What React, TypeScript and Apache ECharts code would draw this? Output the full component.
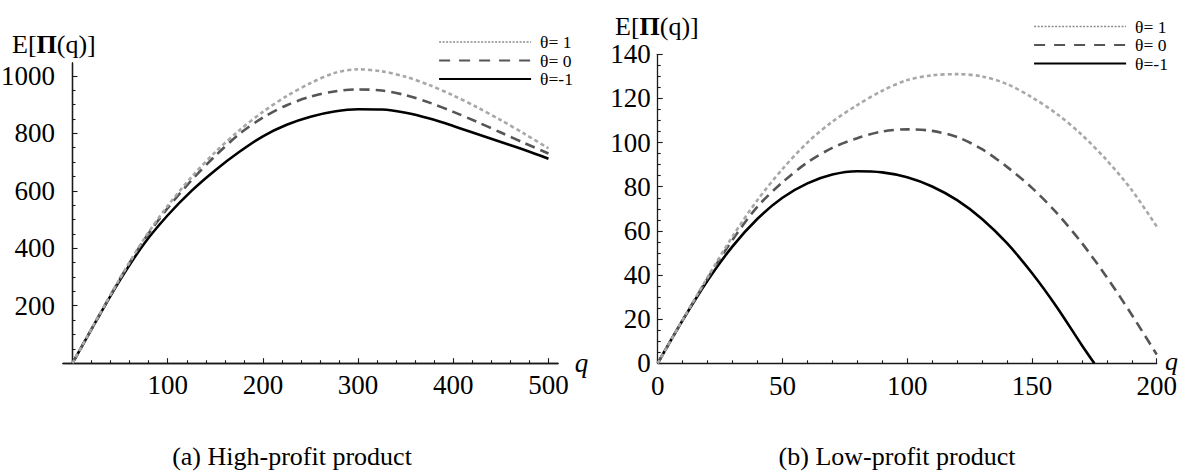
import React, { useEffect, useRef } from "react";
import * as echarts from "echarts";

const SERIES_NAMES = ["θ= 1", "θ= 0", "θ=-1"];

// (a) High-profit product
const highQ = [0, 25, 50, 75, 100, 125, 150, 175, 200, 225, 250, 275, 300, 325, 350, 375, 400, 425, 450, 475, 500];
const highTheta1 = [0, 150, 296, 432, 548, 648, 735, 810, 875, 930, 975, 1010, 1023, 1016, 997, 968, 932, 891, 846, 798, 748];
const highTheta0 = [0, 149, 295, 428, 540, 637, 722, 797, 855, 898, 928, 946, 953, 949, 933, 907, 875, 840, 803, 766, 730];
const highThetaM1 = [0, 148, 290, 415, 515, 600, 672, 735, 790, 830, 858, 876, 884, 883, 872, 852, 826, 798, 770, 742, 712];

const highXTicks = [100, 200, 300, 400, 500];
const highXMinorTicks = [20, 40, 60, 80, 120, 140, 160, 180, 220, 240, 260, 280, 320, 340, 360, 380, 420, 440, 460, 480];
const highYTicks = [200, 400, 600, 800, 1000];
const highYMinorTicks = [50, 100, 150, 250, 300, 350, 450, 500, 550, 650, 700, 750, 850, 900, 950];

// (b) Low-profit product
const lowQ = [0, 10, 20, 30, 40, 50, 60, 70, 80, 90, 100, 110, 120, 130, 140, 150, 160, 170, 180, 190, 200];
const lowTheta1 = [0, 19.7, 39, 57.5, 74, 88, 100, 109.5, 117, 123.5, 128.3, 130.5, 131, 130, 126.5, 120.5, 113, 103.5, 92, 78.5, 62];
const lowTheta0 = [0, 19.6, 38.5, 56, 71, 82, 91, 97.6, 102, 105, 106, 105.3, 102.5, 97, 89, 79.5, 68, 54.5, 39, 22, 4];
const lowQSolid = [0, 10, 20, 30, 40, 50, 60, 70, 80, 90, 100, 110, 120, 130, 140, 150, 160, 170, 175];
const lowThetaM1 = [0, 19.5, 37.5, 53, 65.5, 75, 81.5, 85.5, 87, 86.5, 84.3, 80.1, 73.9, 65.4, 54.4, 40.9, 25.4, 8.2, 0];

const CAPTIONS = ["(a) High-profit product", "(b) Low-profit product"];
const X_NAME = "q";

const FONT = "'Liberation Serif', 'Times New Roman', serif";

const pairs = (xs: number[], ys: number[]) => xs.map((x, i) => [x, ys[i]]);

export default function App() {
  const ref = useRef<HTMLDivElement>(null);

  useEffect(() => {
    const chart = echarts.init(ref.current!, undefined, { renderer: "svg" });

    const labelStyle = { fontFamily: FONT, fontSize: 27, color: "#000", formatter: (v: number) => String(v) };
    const axisLineStyle = { color: "#1a1a1a", width: 1.3 };
    const tickLineStyle = { color: "#1a1a1a", width: 1.1 };
    const colors = ["#a8a8a8", "#555555", "#000000"];
    const lineStyles: any[] = [
      { color: colors[0], width: 2.6, type: [4, 3] },
      { color: colors[1], width: 2.6, type: [10, 6] },
      { color: colors[2], width: 2.6, type: "solid" },
    ];
    const nameStyle = { fontFamily: FONT, fontSize: 27, fontStyle: "italic", color: "#000" };

    const mkSeries = (idx: number, data: number[][], axisIdx: number) => ({
      name: SERIES_NAMES[idx],
      type: "line",
      xAxisIndex: axisIdx,
      yAxisIndex: axisIdx,
      data,
      symbol: "none",
      showSymbol: false,
      smooth: 0.3,
      silent: true,
      color: colors[idx],
      itemStyle: { color: colors[idx], opacity: 0 },
      lineStyle: lineStyles[idx],
      z: 2 + (2 - idx),
    });

    const legendData = [
      { name: SERIES_NAMES[0], itemStyle: { opacity: 0 }, lineStyle: { color: "#8a8a8a", width: 1.4, type: [2, 1.5] } },
      { name: SERIES_NAMES[1], itemStyle: { opacity: 0 }, lineStyle: { color: "#555555", width: 2, type: [11, 9] } },
      { name: SERIES_NAMES[2], itemStyle: { opacity: 0 }, lineStyle: { color: "#000000", width: 2.2, type: "solid" } },
    ];
    const legendBase = {
      orient: "vertical",
      itemWidth: 92,
      itemHeight: 12,
      itemGap: 0.5,
      selectedMode: false,
      itemStyle: { opacity: 0 },
      textStyle: { fontFamily: FONT, fontSize: 17.5, color: "#000", lineHeight: 17, padding: [0, 0, 0, 4] },
      data: legendData,
    };

    const yTitle = (x: number, y: number) => ({
      type: "text",
      x,
      y,
      silent: true,
      style: {
        text: "{n|E[}{b|Π}{n|(q)]}",
        rich: {
          n: { fontFamily: FONT, fontSize: 26, fill: "#000" },
          b: { fontFamily: FONT, fontSize: 26, fontWeight: "bold", fill: "#000" },
        },
        verticalAlign: "middle",
        align: "left",
      },
    });

    const caption = (x: number, text: string) => ({
      type: "text",
      x,
      y: 456,
      silent: true,
      style: { text, fontFamily: FONT, fontSize: 26, fill: "#000", align: "center", verticalAlign: "middle" },
    });

    const option: any = {
      animation: false,
      backgroundColor: "#ffffff",
      grid: [
        { left: 63, top: 63, width: 495, height: 300.2, containLabel: false, outerBoundsMode: "none" },
        { left: 657.7, top: 54.3, width: 499, height: 309, containLabel: false, outerBoundsMode: "none" },
      ],
      xAxis: [
        {
          gridIndex: 0,
          type: "value",
          min: -10,
          max: 510,
          position: "bottom",
          axisLine: { show: true, onZero: false, lineStyle: axisLineStyle },
          axisTick: { show: true, inside: true, length: 5, customValues: highXTicks, lineStyle: tickLineStyle },
          axisLabel: { show: true, customValues: highXTicks, margin: 8, ...labelStyle },
          splitLine: { show: false },
          name: X_NAME,
          nameLocation: "end",
          nameGap: 15,
          nameTextStyle: nameStyle,
        },
        {
          gridIndex: 0,
          type: "value",
          min: -10,
          max: 510,
          position: "bottom",
          axisLine: { show: true, onZero: false, lineStyle: axisLineStyle },
          axisTick: { show: true, inside: true, length: 3, customValues: highXMinorTicks, lineStyle: tickLineStyle },
          axisLabel: { show: false },
          splitLine: { show: false },
        },
        {
          gridIndex: 1,
          type: "value",
          min: 0,
          max: 200,
          interval: 50,
          position: "bottom",
          axisLine: { show: true, onZero: false, lineStyle: axisLineStyle },
          axisTick: { show: true, inside: true, length: 5, lineStyle: tickLineStyle },
          minorTick: { show: true, splitNumber: 5, length: 3, lineStyle: tickLineStyle },
          axisLabel: { show: true, margin: 9, ...labelStyle },
          splitLine: { show: false },
          minorSplitLine: { show: false },
        },
      ],
      yAxis: [
        {
          gridIndex: 0,
          type: "value",
          min: 0,
          max: 1045,
          position: "left",
          axisLine: { show: true, onZero: true, lineStyle: axisLineStyle },
          axisTick: { show: true, inside: true, length: 5, customValues: highYTicks, lineStyle: tickLineStyle },
          axisLabel: { show: true, customValues: highYTicks, margin: 8, ...labelStyle },
          splitLine: { show: false },
        },
        {
          gridIndex: 0,
          type: "value",
          min: 0,
          max: 1045,
          position: "left",
          axisLine: { show: true, onZero: true, lineStyle: axisLineStyle },
          axisTick: { show: true, inside: true, length: 3, customValues: highYMinorTicks, lineStyle: tickLineStyle },
          axisLabel: { show: false },
          splitLine: { show: false },
        },
        {
          gridIndex: 1,
          type: "value",
          min: 0,
          max: 140,
          interval: 20,
          position: "left",
          axisLine: { show: true, onZero: false, lineStyle: axisLineStyle },
          axisTick: { show: true, inside: true, length: 5, lineStyle: tickLineStyle },
          minorTick: { show: true, splitNumber: 4, length: 3, lineStyle: tickLineStyle },
          axisLabel: { show: true, margin: 7, ...labelStyle },
          splitLine: { show: false },
          minorSplitLine: { show: false },
        },
      ],
      legend: [
        { ...legendBase, left: 433, top: 28 },
        { ...legendBase, left: 1028, top: 12.5 },
      ],
      series: [
        mkSeries(2, pairs(highQ, highThetaM1), 0),
        mkSeries(1, pairs(highQ, highTheta0), 0),
        mkSeries(0, pairs(highQ, highTheta1), 0),
        mkSeries(2, pairs(lowQSolid, lowThetaM1), 2),
        mkSeries(1, pairs(lowQ, lowTheta0), 2),
        mkSeries(0, pairs(lowQ, lowTheta1), 2),
      ],
      graphic: [
        yTitle(12, 44),
        yTitle(615, 26),
        caption(292, CAPTIONS[0]),
        caption(897, CAPTIONS[1]),
        {
          type: "text",
          x: 1165,
          y: 361,
          silent: true,
          style: {
            text: X_NAME,
            fontFamily: FONT,
            fontSize: 26,
            fontStyle: "italic",
            fill: "#000",
            align: "left",
            verticalAlign: "middle",
          },
        },
      ],
    };

    chart.setOption(option);
    return () => chart.dispose();
  }, []);

  return (
    <div
      ref={ref}
      style={{ position: "fixed", left: 0, top: 0, width: 1192, height: 472, background: "#fff" }}
    />
  );
}
